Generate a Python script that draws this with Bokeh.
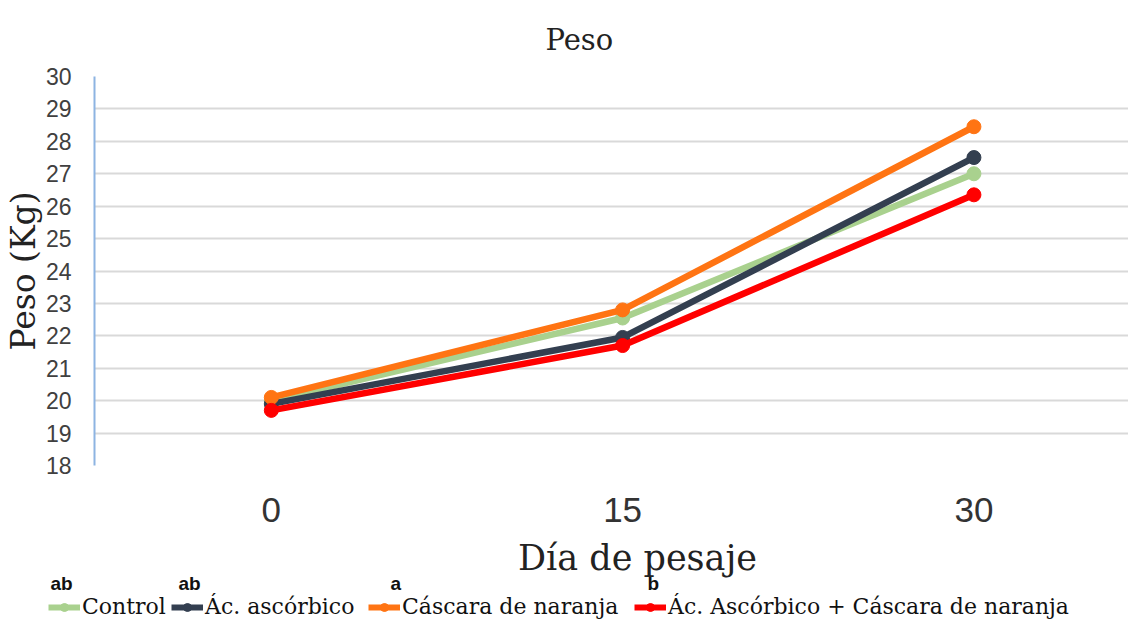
from bokeh.plotting import figure
from bokeh.models import Range1d, Legend, LegendItem, Label, FixedTicker
from bokeh.layouts import column
from bokeh.embed import file_html
from bokeh.resources import INLINE

days = [0, 15, 30]
series_names = ["Control", "Ác. ascórbico", "Cáscara de naranja", "Ác. Ascórbico + Cáscara de naranja"]
control = [20.0, 22.55, 27.0]
ascorbico = [19.9, 21.95, 27.5]
cascara = [20.1, 22.8, 28.45]
asc_cascara = [19.7, 21.7, 26.35]
letters = ["ab", "ab", "a", "b"]
colors = ["#a9d18e", "#333f50", "#ff7413", "#ff0000"]
y_ticks = list(range(18, 31))
all_series = [control, ascorbico, cascara, asc_cascara]

W = 1128
H1, H2 = 535, 84
FL, FT, FB = 94, 76, 465  # frame left/top/bottom on the main canvas

p = figure(width=W, height=H1, output_backend="svg", toolbar_location=None,
           x_range=Range1d(-7.55, 36.6), y_range=Range1d(18, 30),
           min_border_left=FL, min_border_top=FT, min_border_bottom=H1 - FB, min_border_right=0)
p.frame_align = False
p.outline_line_color = None
p.background_fill_color = "white"
p.border_fill_color = "white"

p.title.text = "Peso"
p.title.align = "left"
p.title.offset = 545 - FL
p.title.text_font = "DejaVu Serif"
p.title.text_font_style = "normal"
p.title.text_font_size = "29px"
p.title.text_color = "#222222"
p.title.standoff = 40

p.xgrid.grid_line_color = None
p.ygrid.grid_line_color = "#d9d9d9"
p.ygrid.grid_line_width = 2

p.yaxis.ticker = FixedTicker(ticks=y_ticks)
p.xaxis.ticker = FixedTicker(ticks=days)
p.yaxis.axis_line_color = "#8db4e2"
p.yaxis.axis_line_width = 2
p.yaxis.major_tick_line_color = None
p.yaxis.minor_tick_line_color = None
p.yaxis.major_label_text_font = "Liberation Sans"
p.yaxis.major_label_text_font_size = "23px"
p.yaxis.major_label_text_color = "#404040"
p.yaxis.major_label_standoff = 17
p.yaxis.axis_label = "Peso (Kg)"
p.yaxis.axis_label_text_font = "DejaVu Serif"
p.yaxis.axis_label_text_font_style = "normal"
p.yaxis.axis_label_text_font_size = "33px"
p.yaxis.axis_label_text_color = "#222222"
p.yaxis.axis_label_standoff = 0

p.xaxis.axis_line_color = None
p.xaxis.major_tick_line_color = None
p.xaxis.minor_tick_line_color = None
p.xaxis.major_label_text_font = "Liberation Sans"
p.xaxis.major_label_text_font_size = "35px"
p.xaxis.major_label_text_color = "#333333"
p.xaxis.major_label_standoff = 26

for ys, c in zip(all_series, colors):
    p.line(days, ys, line_color=c, line_width=6.5)
    p.scatter(days, ys, marker="circle", size=14, fill_color=c, line_color=c)

# bottom strip: x-axis title and legend (series drawn outside its visible range, used only for legend entries)
q = figure(width=W, height=H2, output_backend="svg", toolbar_location=None,
           x_range=Range1d(100, 200), y_range=Range1d(100, 200),
           min_border_left=0, min_border_right=0, min_border_top=0, min_border_bottom=0)
q.frame_align = False
q.axis.visible = False
q.grid.grid_line_color = None
q.outline_line_color = None
q.background_fill_color = "white"
q.border_fill_color = "white"

q.add_layout(Label(x=637, y=H2 - (557 - H1), x_units="screen", y_units="screen", text="Día de pesaje",
                   text_font="DejaVu Serif", text_font_size="35px", text_align="center",
                   text_baseline="middle", text_color="#222222"))

item_x = [48, 171, 368, 634]
letter_x = [50, 178, 390, 647]
for name, ys, c, lx, tx, t in zip(series_names, all_series, colors, item_x, letter_x, letters):
    r1 = q.line(days, ys, line_color=c, line_width=6)
    r2 = q.scatter(days, ys, marker="circle", size=14, fill_color=c, line_color=c)
    lg = Legend(items=[LegendItem(label=name, renderers=[r1, r2])], location=(lx, 0),
                background_fill_alpha=0, border_line_color=None,
                label_text_font="DejaVu Serif", label_text_font_size="22px",
                label_text_color="#111111", glyph_width=32, glyph_height=20,
                label_standoff=2, spacing=0, padding=0, margin=0)
    q.add_layout(lg, "center")
    q.add_layout(Label(x=tx, y=H2 - (583 - H1), x_units="screen", y_units="screen", text=t,
                       text_font="Liberation Sans", text_font_style="bold", text_font_size="19px",
                       text_align="left", text_baseline="middle", text_color="#111111"))

open("out.html", "w").write(file_html(column(p, q, spacing=0), INLINE))
